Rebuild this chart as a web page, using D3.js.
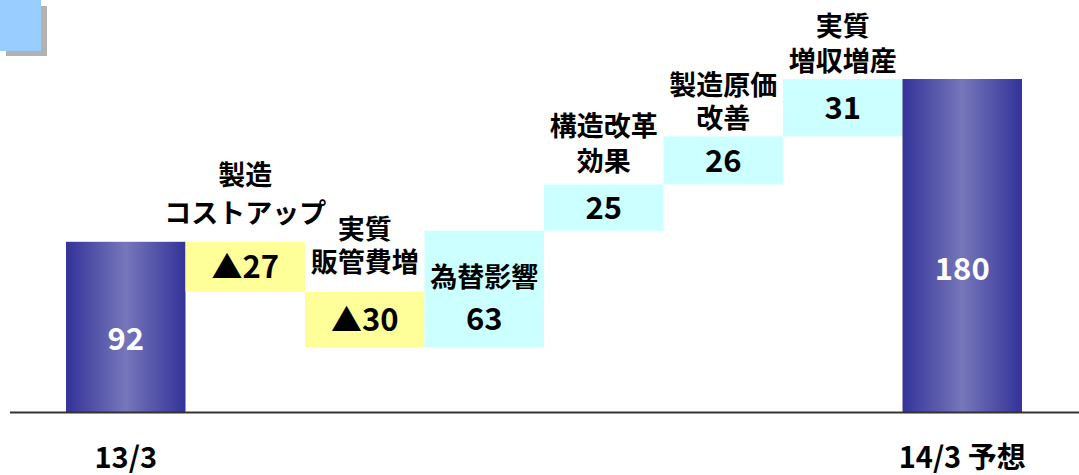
<!DOCTYPE html>
<html><head><meta charset="utf-8">
<script src="https://cdn.jsdelivr.net/npm/d3@7"></script>
<style>
html,body{margin:0;padding:0;background:#fff;}
svg{display:block;}
text{font-family:"Noto Sans CJK JP","Liberation Sans",sans-serif;font-weight:bold;}
</style></head>
<body><svg id="chart" width="1079" height="475"></svg>
<script>
// ---- data ----
const categories = ["13/3", "製造コストアップ", "実質販管費増", "為替影響", "構造改革効果", "製造原価改善", "実質増収増産", "14/3 予想"];
const values = [92, -27, -30, 63, 25, 26, 31, 180];
const kinds = ["total", "down", "down", "up", "up", "up", "up", "total"];
const valueLabels = ["92", "▲27", "▲30", "63", "25", "26", "31", "180"];
const stepLabels = [[], ["製造", "コストアップ"], ["実質", "販管費増"], ["為替影響"], ["構造改革", "効果"], ["製造原価", "改善"], ["実質", "増収増産"], []];
const tickLabels = ["13/3", "", "", "", "", "", "", "14/3 予想"];

// ---- layout ----
const W = 1079, H = 475;
const svg = d3.select("#chart");
const x = d3.scaleBand().domain(categories).range([66, 1022]).paddingInner(0).paddingOuter(0);
const y = d3.scaleLinear().domain([0, 180]).range([412, 79]);
const fill = {total: "url(#blueGrad)", down: "#ffff99", up: "#ccffff"};
// label first-line centre, relative to bar top (px), per category
const labelTopOffset = [0, -66, -62, 47, -57, -50, -52, 0];
const labelLineH = [0, 38, 33, 0, 35, 33, 35, 0];
// value label centre relative position
const valueOffset = [null, "mid", "mid", -28, "mid", "mid", "mid", null];

const defs = svg.append("defs");
const g = defs.append("linearGradient").attr("id", "blueGrad").attr("x1", "0").attr("x2", "1").attr("y1", "0").attr("y2", "0");
g.append("stop").attr("offset", "0").attr("stop-color", "#333399");
g.append("stop").attr("offset", "0.5").attr("stop-color", "#7676ba");
g.append("stop").attr("offset", "1").attr("stop-color", "#333399");

// top-left decoration
svg.append("rect").attr("x", 6).attr("y", 6).attr("width", 41).attr("height", 50).attr("fill", "#b2b2b2");
svg.append("rect").attr("x", 0).attr("y", 0).attr("width", 41).attr("height", 51).attr("fill", "#99ccff");

// compute waterfall spans
let run = 0;
const bars = values.map((v, i) => {
  let lo, hi;
  if (kinds[i] === "total") { lo = 0; hi = v; run = v; }
  else { const start = run; run = run + v; lo = Math.min(start, run); hi = Math.max(start, run); }
  return {i, cat: categories[i], lo, hi, kind: kinds[i]};
});

svg.selectAll("rect.bar").data(bars).enter().append("rect")
  .attr("class", "bar")
  .attr("x", d => x(d.cat))
  .attr("width", x.bandwidth())
  .attr("y", d => y(d.hi))
  .attr("height", d => y(d.lo) - y(d.hi))
  .attr("fill", d => fill[d.kind]);

// axis baseline
svg.append("line").attr("x1", 10).attr("x2", W).attr("y1", y(0) + 0.5).attr("y2", y(0) + 0.5)
  .attr("stroke", "#333333").attr("stroke-width", 2);

// value labels
svg.selectAll("text.val").data(bars).enter().append("text")
  .attr("class", "val")
  .attr("x", d => x(d.cat) + x.bandwidth() / 2)
  .attr("y", d => {
    const o = valueOffset[d.i];
    if (o === null) return y(d.lo) - 0.43 * (y(d.lo) - y(d.hi));
    if (o === "mid") return (y(d.lo) + y(d.hi)) / 2;
    return y(d.lo) + o;
  })
  .attr("dy", "0.36em")
  .attr("text-anchor", "middle")
  .attr("font-size", 31)
  .attr("fill", d => d.kind === "total" ? "#ffffff" : "#000000")
  .text(d => valueLabels[d.i]);

// step category labels (one text element per label, lines as tspans)
bars.filter(d => stepLabels[d.i].length).forEach(d => {
  const cx = x(d.cat) + x.bandwidth() / 2;
  const t = svg.append("text")
    .attr("class", "cat")
    .attr("x", cx)
    .attr("y", y(d.hi) + labelTopOffset[d.i] + 9)
    .attr("text-anchor", "middle")
    .attr("font-size", 27)
    .attr("fill", "#000");
  stepLabels[d.i].forEach((ln, k) => {
    t.append("tspan").attr("x", cx).attr("dy", k === 0 ? 0 : labelLineH[d.i]).text(ln);
  });
});

// bottom tick labels
svg.selectAll("text.tick").data(categories.filter((d, i) => tickLabels[i])).enter().append("text")
  .attr("class", "tick")
  .attr("x", d => x(d) + x.bandwidth() / 2)
  .attr("y", 468)
  .attr("text-anchor", "middle")
  .attr("font-size", 29)
  .attr("fill", "#000")
  .text(d => tickLabels[categories.indexOf(d)]);
</script></body></html>
